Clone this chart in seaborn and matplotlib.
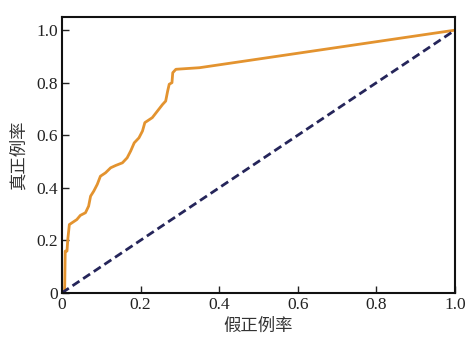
import matplotlib
matplotlib.use("Agg")
import matplotlib.pyplot as plt
import seaborn as sns
import pandas as pd

fpr = [0.0, 0.007, 0.0085, 0.013, 0.015, 0.019, 0.026, 0.038, 0.047, 0.060, 0.068, 0.073,
       0.081, 0.090, 0.098, 0.111, 0.124, 0.137, 0.154, 0.166, 0.175, 0.184, 0.196, 0.205,
       0.211, 0.230, 0.243, 0.256, 0.264, 0.269, 0.273, 0.280, 0.282, 0.290, 0.350, 1.0]
tpr = [0.0, 0.0, 0.159, 0.159, 0.203, 0.260, 0.267, 0.279, 0.295, 0.305, 0.330, 0.368,
       0.387, 0.413, 0.444, 0.457, 0.476, 0.485, 0.495, 0.514, 0.540, 0.571, 0.590, 0.616,
       0.648, 0.667, 0.692, 0.717, 0.730, 0.768, 0.794, 0.800, 0.838, 0.851, 0.857, 1.0]
diag_x = [0.0, 1.0]
diag_y = [0.0, 1.0]
ticks = [0, 0.2, 0.4, 0.6, 0.8, 1.0]
tick_labels = ["0", "0.2", "0.4", "0.6", "0.8", "1.0"]

sns.set_style("white")
plt.rcParams['font.family'] = ['Liberation Serif', 'Noto Sans CJK SC']

fig = plt.figure(figsize=(4.76, 3.47), dpi=100)
ax = fig.add_axes([0.130, 0.156, 0.826, 0.795])

roc = pd.DataFrame({"fpr": fpr, "tpr": tpr})
diag = pd.DataFrame({"x": diag_x, "y": diag_y})
sns.lineplot(data=roc, x="fpr", y="tpr", ax=ax, color="#E3932F", linewidth=2,
             sort=False, estimator=None)
sns.lineplot(data=diag, x="x", y="y", ax=ax, color="#25255A", linewidth=2,
             linestyle=(0, (3, 1.6)), estimator=None)

ax.set_xlim(0, 1.0)
ax.set_ylim(0, 1.05)
ax.set_xticks(ticks)
ax.set_xticklabels(tick_labels)
ax.set_yticks(ticks)
ax.set_yticklabels(tick_labels)
ax.tick_params(direction="in", length=5, width=1, labelsize=12.5, colors="#222222",
               bottom=True, left=True, top=False, right=False, pad=3)
for s in ax.spines.values():
    s.set_linewidth(1.5)
    s.set_color("#111111")
ax.set_xlabel("假正例率", fontsize=12.5, family=['Noto Sans CJK SC'], color="#333333", labelpad=3)
ax.set_ylabel("真正例率", fontsize=12.5, family=['Noto Sans CJK SC'], color="#333333", labelpad=6)

fig.savefig("out.png", dpi=100)
